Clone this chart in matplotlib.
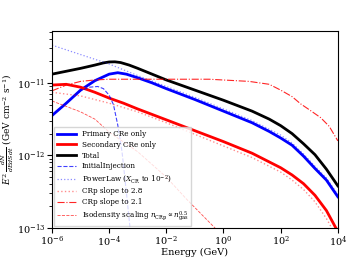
import numpy as np
import matplotlib
matplotlib.use('Agg')
import matplotlib.pyplot as plt

plt.rcParams.update({
    'font.family': 'DejaVu Serif',
    'mathtext.fontset': 'dejavuserif',
    'font.size': 7,
    'xtick.labelsize': 7,
    'ytick.labelsize': 7,
    'axes.labelsize': 7,
    'legend.fontsize': 5.2,
})

# values, as log10(E/GeV) and log10(flux)
logE_prim = [-6, -5.5, -5, -4.5, -4, -3.7, -3.4, -3, -2.5, -2, -1, 0, 1, 1.6, 2, 2.4, 2.8, 3.2, 3.6, 4]
logF_prim = [-11.45, -11.28, -11.10, -10.97, -10.88, -10.86, -10.88, -10.93, -11.00, -11.08,
             -11.23, -11.39, -11.55, -11.67, -11.76, -11.86, -12.01, -12.18, -12.34, -12.57]

logE_sec = [-6, -5.5, -5, -4.5, -4, -3.5, -3, -2, -1, 0, 1, 2, 2.4, 2.8, 3.2, 3.6, 4]
logF_sec = [-11.03, -11.02, -11.06, -11.13, -11.21, -11.28, -11.36, -11.51, -11.66, -11.81,
            -11.97, -12.17, -12.27, -12.39, -12.55, -12.76, -13.05]

logE_tot = [-6, -5.5, -5, -4.5, -4.2, -4, -3.8, -3.6, -3.3, -3, -2.5, -2, -1, 0, 1, 1.6, 2, 2.4,
            2.8, 3.2, 3.6, 4]
logF_tot = [-10.88, -10.84, -10.80, -10.755, -10.725, -10.712, -10.71, -10.72, -10.755, -10.80,
            -10.88, -10.96, -11.10, -11.24, -11.39, -11.50, -11.59, -11.70, -11.84, -11.99,
            -12.19, -12.42]

logE_init = [-6, -5.5, -5, -4.7, -4.4, -4.2, -4.0, -3.85, -3.7, -3.55, -3.4, -3.27, -3.2]
logF_init = [-11.45, -11.28, -11.11, -11.06, -11.05, -11.08, -11.17, -11.30, -11.58, -11.95,
             -12.50, -13.0, -13.3]

logE_pl = [-6, -5, -4, -3.5, -3, -2, -1, 0, 1, 2, 2.4, 2.8, 3.2, 3.6, 4]
logF_pl = [-10.48, -10.61, -10.74, -10.82, -10.90, -11.05, -11.20, -11.36, -11.52, -11.72,
           -11.83, -11.98, -12.15, -12.31, -12.54]

logE_28 = [-6, -5, -4, -3, -2, -1, 0, 1, 2, 2.4, 2.8, 3.2, 3.6, 4]
logF_28 = [-11.13, -11.18, -11.28, -11.40, -11.55, -11.71, -11.87, -12.03, -12.23, -12.34,
           -12.47, -12.64, -12.87, -13.15]

logE_21 = [-6, -5.5, -5, -4.5, -4, -2, -0.5, 0.9, 1.6, 2, 2.4, 2.7, 3.0, 3.4, 3.7, 4]
logF_21 = [-11.11, -11.03, -10.98, -10.96, -10.95, -10.95, -10.95, -10.98, -11.02, -11.10,
           -11.19, -11.29, -11.37, -11.48, -11.60, -11.80]

logE_iso = [-6, -5, -4.5, -4, -3, -2, -1.3, -0.3, 0]
logF_iso = [-11.25, -11.40, -11.50, -11.68, -11.95, -12.30, -12.60, -13.0, -13.15]

fig = plt.figure(figsize=(3.49, 2.62), dpi=100)
ax = fig.add_axes([0.149, 0.130, 0.819, 0.752])

def E(v):
    return 10.0 ** np.array(v)

ax.plot(E(logE_prim), E(logF_prim), color='blue', lw=2, label='Primary CRe only')
ax.plot(E(logE_sec), E(logF_sec), color='red', lw=2, label='Secondary CRe only')
ax.plot(E(logE_tot), E(logF_tot), color='black', lw=2, label='Total')
ax.plot(E(logE_init), E(logF_init), color='blue', lw=0.8, ls='--', alpha=0.75,
        label='InitialInjection')
ax.plot(E(logE_pl), E(logF_pl), color='blue', lw=0.9, ls=':', alpha=0.45,
        label=r'PowerLaw ($X_{\rm CR}$ to $10^{-2}$)')
ax.plot(E(logE_28), E(logF_28), color='red', lw=1.0, ls=':', alpha=0.45, label='CRp slope to 2.8')
ax.plot(E(logE_21), E(logF_21), color='red', lw=0.8, ls='-.', alpha=0.85, label='CRp slope to 2.1')
ax.plot(E(logE_iso), E(logF_iso), color='red', lw=0.6, ls='--', alpha=0.7,
        label=r'Isodensity scaling $n_{\rm CRp} \propto n_{\rm gas}^{0.5}$')

ax.set_xscale('log')
ax.set_yscale('log')
ax.set_xlim(1e-6, 1e4)
ax.set_ylim(1e-13, 5.2e-11)
ax.set_xticks([1e-6, 1e-4, 1e-2, 1e0, 1e2, 1e4])
ax.set_xlabel('Energy (GeV)')
ax.set_ylabel(r'$E^2\,\frac{dN}{dEdSdt}$ (GeV cm$^{-2}$ s$^{-1}$)', fontsize=6.5)
ax.xaxis.set_label_coords(0.5, -0.1)
ax.yaxis.set_label_coords(-0.125, 0.5)
ax.tick_params(which='both', direction='out', pad=1.5)

ax.legend(loc='lower left', frameon=True, edgecolor='#cccccc', framealpha=0.8,
          borderaxespad=0.3, handlelength=2.6, labelspacing=0.38, fancybox=False)

plt.savefig('out.png', dpi=100, facecolor='white')
